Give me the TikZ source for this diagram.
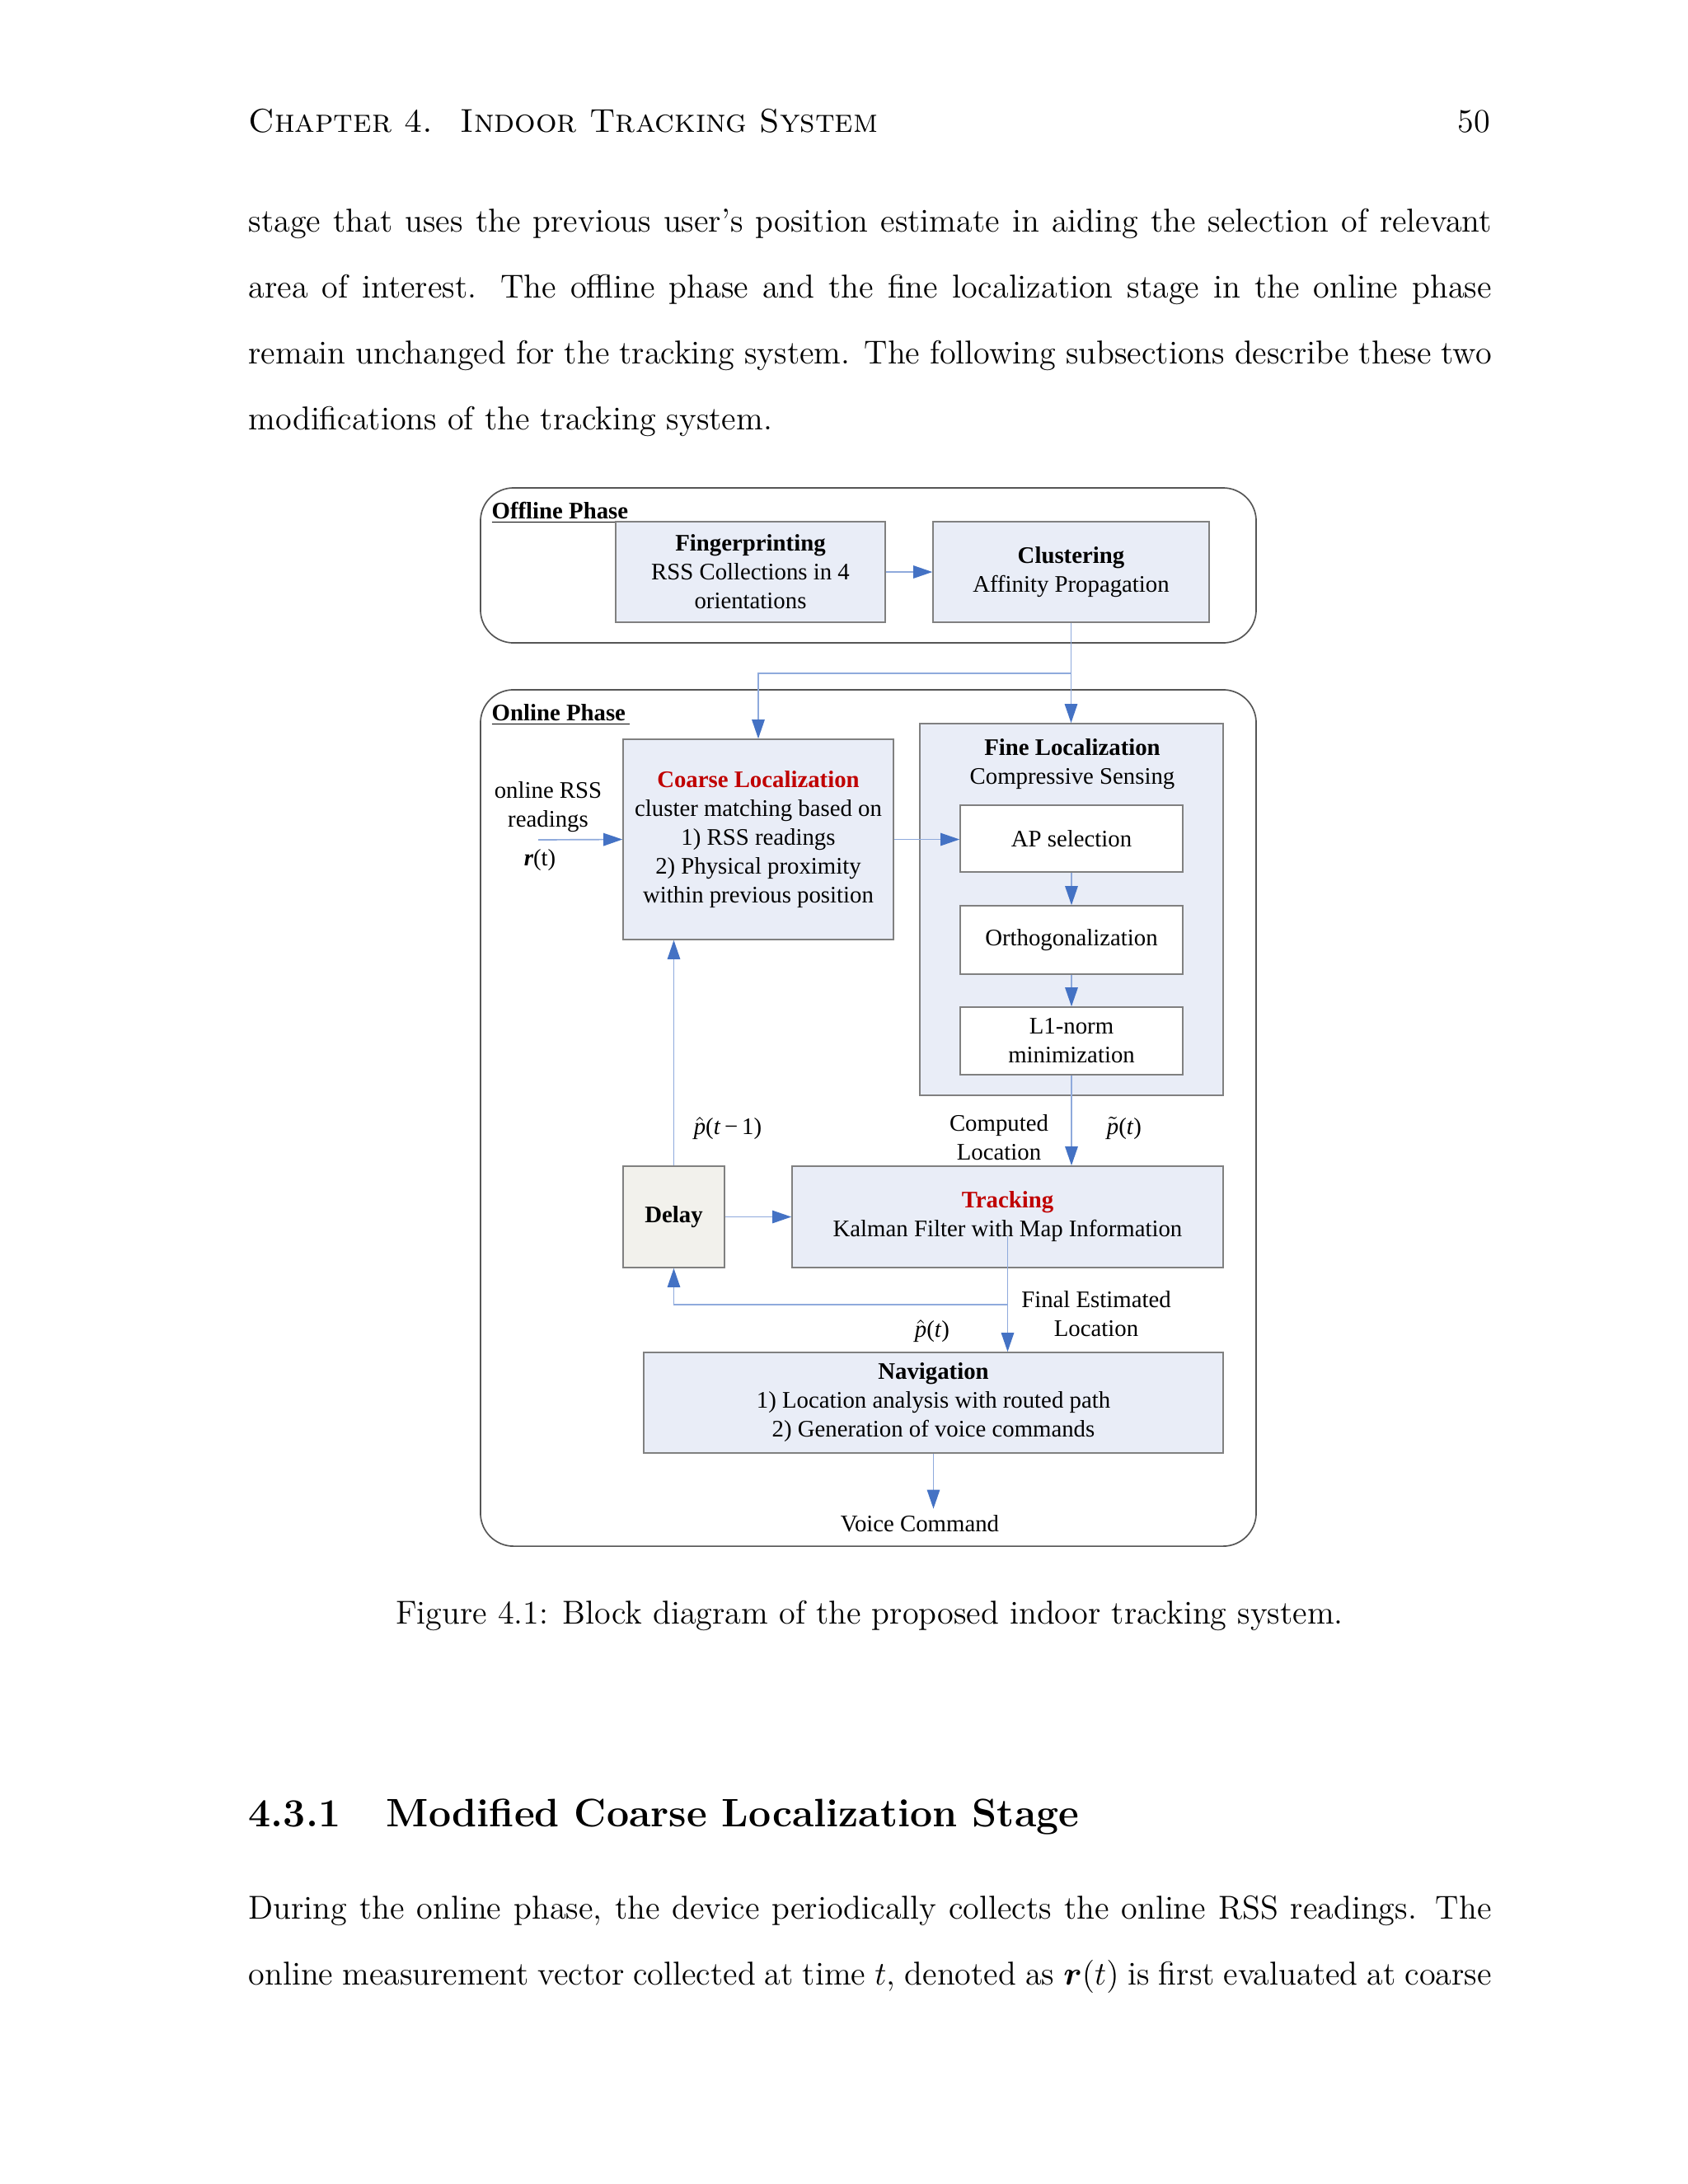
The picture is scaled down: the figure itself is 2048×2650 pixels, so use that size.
\documentclass[tikz,border=0pt]{standalone}
\usepackage{amsmath}
\usepackage{fontspec}
\newfontfamily\diagfont{Liberation Serif}
\usetikzlibrary{arrows.meta, positioning}
\definecolor{boxfill}{HTML}{E9EDF7}
\definecolor{delayfill}{HTML}{F2F1EC}
\definecolor{boxline}{HTML}{808080}
\definecolor{phaseline}{HTML}{555555}
\definecolor{linkblue}{HTML}{8FAADC}
\definecolor{tipblue}{HTML}{4472C4}
\definecolor{locred}{HTML}{C00000}
\tikzset{
    every node/.style={inner sep=0pt},
    pagetext/.style={font=\fontsize{12}{14.5}\selectfont, anchor=base west}, % page text
    diag/.style={font=\diagfont\fontsize{8.6}{10.46}\selectfont, align=center},
    blk/.style={diag, draw=boxline, fill=boxfill, line width=0.45pt},
    subblk/.style={blk, fill=white, minimum width=80.7pt},
    phase/.style={draw=phaseline, line width=0.5pt, rounded corners=12pt, minimum width=281.2pt},
    %
    link/.style={draw=linkblue, line width=0.5pt, -{Triangle[length=6.9pt,width=4.6pt,color=tipblue]}},
}
\begin{document}
\begin{tikzpicture}[x=0.2988pt, y=-0.2988pt]
        \fill[white] (0,0) rectangle (2048,2650);
        \useasboundingbox (0,0) rectangle (2048,2650);
        % page text
        \node[pagetext] (head) at (301,160.5) {\textsc{Chapter 4.\hspace{10pt}Indoor Tracking System}};
        \node[pagetext, anchor=base east] (pageno) at (1809,160.5) {50};
        \node[pagetext] (p1) at (301,281) {\makebox[450.6pt][s]{stage that uses the previous user's position estimate in aiding the selection of relevant}};
        \node[pagetext] (p2) at (301,361) {\makebox[450.6pt][s]{area of interest.  The offline phase and the fine localization stage in the online phase}};
        \node[pagetext] (p3) at (301,441) {\makebox[450.6pt][s]{remain unchanged for the tracking system. The following subsections describe these two}};
        \node[pagetext] (p4) at (301,521) {modifications of the tracking system.};
        
        % phases
        \node[phase, minimum height=56.2pt] (offline) at (1053.5,686) {};
        \node[phase, minimum height=310.5pt] (online) at (1053.5,1356.5) {};
        \node[diag, anchor=base west] (offline lbl) at (596,629) {\bfseries\underline{Offline Phase\,}};
        \node[diag, anchor=base west] (online lbl) at (596,874) {\bfseries\underline{Online Phase\,}};
        
        % blocks
        \node[blk, minimum width=97.7pt, minimum height=36.5pt] (finger) at (910.5,694) {\textbf{Fingerprinting}\\RSS Collections in 4\\orientations};
        \node[blk, minimum width=100.1pt, minimum height=36.5pt] (cluster) at (1299.5,694) {\textbf{Clustering}\\Affinity Propagation};
        \node[blk, minimum width=98pt, minimum height=72.6pt] (coarse) at (920,1018.5) {{\bfseries\color{locred}Coarse Localization}\\cluster matching based on\\1) RSS readings\\2) Physical proximity\\within previous position};
        \node[blk, minimum width=110pt, minimum height=134.8pt] (fine) at (1300,1103.5) {};
        \node[diag, anchor=north] (fine lbl) at (1301,896) {\textbf{Fine Localization}\\Compressive Sensing};
        \node[subblk, minimum height=24.2pt] (apsel) at (1300,1017.5) {AP selection};
        \node[subblk, minimum height=24.8pt] (ortho) at (1300,1140.5) {Orthogonalization};
        \node[subblk, minimum height=24.5pt] (lnorm) at (1300,1263) {L1-norm\\minimization};
        \node[blk, fill=delayfill, minimum width=36.8pt, minimum height=36.8pt] (delay) at (817.5,1476.5) {\textbf{Delay}};
        \node[blk, minimum width=156.3pt, minimum height=36.8pt] (track) at (1222.5,1476.5) {{\bfseries\color{locred}Tracking}\\Kalman Filter with Map Information};
        \node[blk, minimum width=210.1pt, minimum height=36.5pt] (nav) at (1132.5,1702) {\textbf{Navigation}\\1) Location analysis with routed path\\2) Generation of voice commands};
        
        % labels
        \node[diag] (rss lbl) at (665,979) {online RSS\\readings};
        \node[diag] (rt lbl) at (655,1044) {{\bfseries\itshape r}(t)};
        \node[diag] (pprev) at (883,1369) {$\hat{\mbox{\itshape p}}$(\textit{t}\,−\,1)};
        \node[diag] (comp lbl) at (1212,1380) {Computed\\Location};
        \node[diag] (ptil) at (1364,1369) {$\tilde{\mbox{\itshape p}}$(\textit{t})};
        \node[diag] (final lbl) at (1330,1594) {Final Estimated\\Location};
        \node[diag] (pest) at (1131,1615) {$\hat{\mbox{\itshape p}}$(\textit{t})};
        \node[diag, anchor=base] (voice) at (1116,1858) {Voice Command};
        
        \coordinate (split) at (1299.5,817);
        \coordinate (rss in) at (653,1019);
        \coordinate (trk out) at (1222.5,1500);
        \coordinate (fb) at (1222.5,1583);
        
        % connectors
        \draw[link] (finger) -- (cluster);
        \draw[link] (cluster.south) -- (cluster.south |- fine.north);
        \draw[link] (split) -| (coarse.north);
        \draw[link] (rss in) -- (coarse.west);
        \draw[link] (coarse.east) -- (coarse.east -| apsel.west);
        \draw[link] (apsel) -- (ortho);
        \draw[link] (ortho) -- (lnorm);
        \draw[link] (lnorm.south) -- (lnorm.south |- track.north);
        \draw[link] (delay.north) -- (delay.north |- coarse.south);
        \draw[link] (delay) -- (track);
        \draw[link] (trk out) -- (trk out |- nav.north);
        \draw[link] (fb) -| (delay.south);
        \draw[link] (nav.south) -- ([yshift=2pt]nav.south |- voice.north);
        
        % caption and next section
        \node[pagetext, anchor=base] (caption) at (1055,1970.5) {Figure 4.1: Block diagram of the proposed indoor tracking system.};
        \node[pagetext, font=\fontsize{14.4}{17}\selectfont\bfseries] (secnum) at (301,2216) {4.3.1};
        \node[pagetext, font=\fontsize{14.4}{17}\selectfont\bfseries] (sectitle) at (468,2216) {Modified Coarse Localization Stage};
        \node[pagetext] (q1) at (301,2328) {\makebox[450.6pt][s]{During the online phase, the device periodically collects the online RSS readings.  The}};
        \node[pagetext] (q2) at (301,2408) {\makebox[450.6pt][s]{online measurement vector collected at time $t$, denoted as $\boldsymbol{r}(t)$ is first evaluated at coarse}};
    \end{tikzpicture}
\end{document}
